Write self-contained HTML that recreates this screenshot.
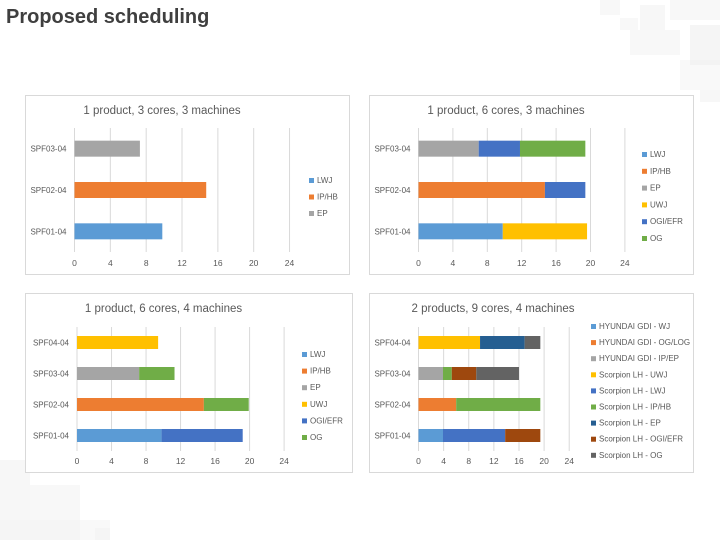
<!DOCTYPE html>
<html><head><meta charset="utf-8"><style>
body{margin:0;width:720px;height:540px;background:#fff;overflow:hidden;font-family:"Liberation Sans",sans-serif;position:relative}
#title{position:absolute;left:6px;top:6px;font-size:20px;font-weight:bold;color:#3f3f3f}
svg{position:absolute;left:0;top:0}
</style></head><body>
<div id="title">Proposed scheduling</div>
<svg id="s" width="720" height="540">
<g fill="#e6e6e6" opacity="0.55">
<rect x="600" y="0" width="20" height="15" opacity="0.5"/><rect x="640" y="5" width="25" height="25" opacity="0.6"/><rect x="670" y="0" width="50" height="20" opacity="0.5"/><rect x="630" y="30" width="50" height="25" opacity="0.5"/><rect x="690" y="25" width="30" height="40" opacity="0.7"/><rect x="680" y="60" width="40" height="30" opacity="0.4"/><rect x="700" y="90" width="20" height="12" opacity="0.6"/><rect x="620" y="18" width="18" height="12" opacity="0.5"/>
<rect x="0" y="460" width="30" height="80" opacity="0.6"/><rect x="30" y="485" width="50" height="55" opacity="0.5"/><rect x="0" y="520" width="110" height="20" opacity="0.4"/><rect x="95" y="528" width="15" height="12" opacity="0.6"/></g>
</svg>
<script>
const cats3=["SPF01-04","SPF02-04","SPF03-04"];
const cats4=["SPF01-04","SPF02-04","SPF03-04","SPF04-04"];
const ticks=[0,4,8,12,16,20,24];
const c1Series=["LWJ","IP/HB","EP"];
const c1Colors=["#5b9bd5","#ed7d31","#a5a5a5"];
const c1Values=[[9.8,0,0],[0,14.7,0],[0,0,7.3]];
const c2Series=["LWJ","IP/HB","EP","UWJ","OGI/EFR","OG"];
const c2Colors=["#5b9bd5","#ed7d31","#a5a5a5","#ffc000","#4472c4","#70ad47"];
const c2Values=[[9.8,0,0,9.8,0,0],[0,14.7,0,0,4.7,0],[0,0,7.0,0,4.8,7.6]];
const c3Values=[[9.8,0,0,0,9.4,0],[0,14.7,0,0,0,5.2],[0,0,7.2,0,0,4.1],[0,0,0,9.4,0,0]];
const c4Series=["HYUNDAI GDI - WJ","HYUNDAI GDI - OG/LOG","HYUNDAI GDI - IP/EP","Scorpion LH - UWJ","Scorpion LH - LWJ","Scorpion LH - IP/HB","Scorpion LH - EP","Scorpion LH - OGI/EFR","Scorpion LH - OG"];
const c4Colors=["#5b9bd5","#ed7d31","#a5a5a5","#ffc000","#4472c4","#70ad47","#255e91","#9e480e","#636363"];
const c4Values=[[3.9,0,0,0,9.9,0,0,5.6,0],[0,6.0,0,0,0,13.4,0,0,0],[0,0,3.9,0,0,1.4,0,3.9,6.8],[0,0,0,9.8,0,0,7.1,0,2.5]];
const NS="http://www.w3.org/2000/svg";
const svg=document.getElementById('s');
function mk(t,a,p){const e=document.createElementNS(NS,t);for(const k in a)e.setAttribute(k,a[k]);(p||svg).appendChild(e);return e;}
function chart(o){
 const g=mk('g',{});
 
 
 const b=mk('rect',{x:o.bx+.5,y:o.by+.5,width:o.bw,height:o.bh,fill:'#fff',stroke:'#d9d9d9'},g);
 
 
 const t=mk('text',{x:o.bx+o.bw*0.5-o.tdx,y:o.by+19,'font-size':11.5,fill:'#595959','text-anchor':'middle'},g);
 t.textContent=o.title;
 
 
 const xs=v=>o.x0+v*o.sc;
 ticks.forEach(v=>{
  const l=mk('line',{x1:xs(v),x2:xs(v),y1:o.gy0,y2:o.gy1,stroke:'#d9d9d9'},g);
  
  
  const tx=mk('text',{x:xs(v),y:o.ty,'font-size':8.5,fill:'#595959','text-anchor':'middle'},g);
  tx.textContent=v;
  
  
 });
 const n=o.cats.length, step=(o.gy1-o.gy0)/n;
 o.cats.forEach((c,i)=>{
  const cy=o.gy1-step*(i+0.5);
  const lb=mk('text',{x:o.x0-8,y:cy+3,'font-size':8,fill:'#595959','text-anchor':'end'},g);
  lb.textContent=c;
  
  
  let acc=0;
  o.vals[i].forEach((v,j)=>{
   if(v<=0)return;
   const r=mk('rect',{x:xs(acc),y:cy-o.bhh/2,width:v*o.sc,height:o.bhh,fill:o.colors[j]},g);
   
   
   acc+=v;
  });
 });
 o.series.forEach((s,j)=>{
  const y=o.ly0+j*o.ld;
  const r=mk('rect',{x:o.lx,y:y-5,width:5,height:5,fill:o.colors[j]},g);
  
  
  const tx=mk('text',{x:o.lx+8,y:y,'font-size':8,fill:'#595959'},g);
  tx.textContent=s;
  
  
 });
}
chart({name:'chart-1p-3c-3m',bx:25,by:95,bw:324,bh:179,title:'1 product, 3 cores, 3 machines',tdx:25,x0:74.5,sc:8.96,gy0:128,gy1:252,ty:266,cats:cats3,vals:c1Values,bhh:16,series:c1Series,colors:c1Colors,lx:309,ly0:183,ld:16.5});
chart({name:'chart-1p-6c-3m',bx:369,by:95,bw:324,bh:179,title:'1 product, 6 cores, 3 machines',tdx:25,x0:418.5,sc:8.6,gy0:128,gy1:252,ty:266,cats:cats3,vals:c2Values,bhh:16,series:c2Series,colors:c2Colors,lx:642,ly0:157,ld:16.8});
chart({name:'chart-1p-6c-4m',bx:25,by:293,bw:327,bh:179,title:'1 product, 6 cores, 4 machines',tdx:25,x0:77,sc:8.63,gy0:327,gy1:451,ty:464,cats:cats4,vals:c3Values,bhh:13,series:c2Series,colors:c2Colors,lx:302,ly0:357,ld:16.6});
chart({name:'chart-2p-9c-4m',bx:369,by:293,bw:324,bh:179,title:'2 products, 9 cores, 4 machines',tdx:38,x0:418.5,sc:6.28,gy0:327,gy1:451,ty:464,cats:cats4,vals:c4Values,bhh:13,series:c4Series,colors:c4Colors,lx:591,ly0:329,ld:16.1});
</script>
</body></html>
